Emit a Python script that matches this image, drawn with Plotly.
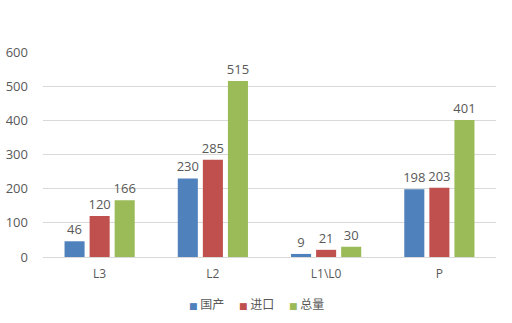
import plotly.graph_objects as go

categories = ["L3", "L2", "L1\\L0", "P"]
domestic = [46, 230, 9, 198]
imported = [120, 285, 21, 203]
total = [166, 515, 30, 401]
y_ticks = [0, 100, 200, 300, 400, 500, 600]

series = [
    ("国产", domestic, "#4F81BD"),
    ("进口", imported, "#C0504D"),
    ("总量", total, "#9BBB59"),
]

font_family = "Open Sans, Liberation Sans, Noto Sans CJK SC, sans-serif"
text_color = "#595959"

# one compact legend box per series, laid out side by side;
# the coloured key square is drawn inline in the entry label
legend_ids = ["legend", "legend2", "legend3"]
legend_x = [149, 199, 249]

fig = go.Figure()
for (name, vals, color), lid in zip(series, legend_ids):
    fig.add_trace(go.Bar(
        x=categories, y=vals, name=name, showlegend=False,
        marker=dict(color=color, line=dict(width=0)),
        text=[str(v) for v in vals], textposition="outside",
        constraintext="none",
        textfont=dict(size=13, color=text_color, family=font_family),
        cliponaxis=False,
    ))
    key = (f"<span style='color:{color};font-size:9px;"
           f"font-family:DejaVu Sans'>■</span> {name}")
    fig.add_trace(go.Scatter(
        x=[None], y=[None], mode="markers", name=key,
        marker=dict(symbol="square", size=0, color="rgba(0,0,0,0)",
                    line=dict(width=0)),
        showlegend=True, legend=lid,
    ))

legend_style = dict(orientation="h", xref="container", yref="container",
                    xanchor="left", y=0.058, yanchor="middle",
                    font=dict(size=12, color=text_color, family="Noto Sans CJK SC"),
                    itemwidth=30, bgcolor="rgba(0,0,0,0)")

fig.update_layout(
    width=512, height=323,
    margin=dict(l=43, r=16, t=52, b=66, autoexpand=False),
    paper_bgcolor="white", plot_bgcolor="white",
    barmode="group", bargap=0.336, bargroupgap=0.2,
    font=dict(family=font_family, size=13, color=text_color),
    showlegend=True,
    legend=dict(x=legend_x[0] / 512, **legend_style),
    legend2=dict(x=legend_x[1] / 512, **legend_style),
    legend3=dict(x=legend_x[2] / 512, **legend_style),
    xaxis=dict(showgrid=False, showline=False, ticks="",
               ticklabelstandoff=8,
               tickfont=dict(size=12, color=text_color)),
    yaxis=dict(range=[0, 600], tickvals=y_ticks, showgrid=True,
               gridcolor="#D9D9D9", gridwidth=1, zeroline=True,
               zerolinecolor="#D9D9D9", zerolinewidth=1,
               showline=False, ticks="", ticklabelstandoff=14,
               tickfont=dict(size=13, color=text_color)),
)

fig.write_html("out.html")
